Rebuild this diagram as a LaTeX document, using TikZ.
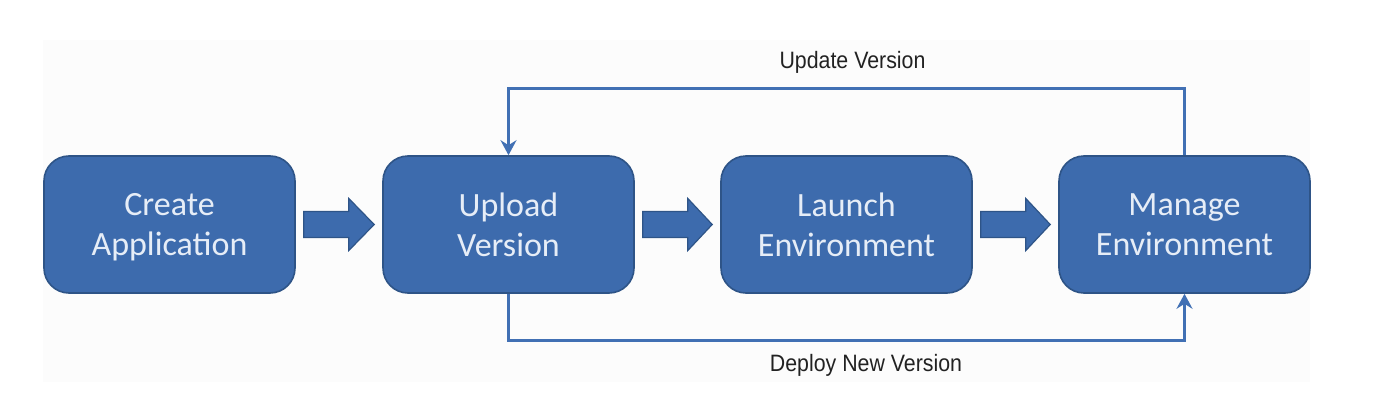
\documentclass[tikz,border=0pt]{standalone}
\usepackage{fontspec}
\usetikzlibrary{calc,arrows.meta}
\newfontfamily\boxfont{Carlito}
\newfontfamily\lblfont[FakeStretch=0.9]{Liberation Sans}
\definecolor{boxfill}{HTML}{3D6BAD}
\definecolor{boxline}{HTML}{2E5487}
\definecolor{connc}{HTML}{4170B4}
\definecolor{boxtext}{HTML}{E6EDF7}
\definecolor{lbltext}{HTML}{222222}
\definecolor{bgc}{HTML}{FCFCFC}
\tikzset{
  stepbox/.style={draw=boxline, line width=1.6pt, fill=boxfill, rounded corners=25pt,
    minimum width=251pt, minimum height=137pt, inner sep=0pt, align=center,
    text=boxtext, font=\boxfont\fontsize{34}{40}\selectfont},
  barrow/.style={draw=boxline, line width=1.2pt, fill=boxfill, line join=miter},
  conn/.style={draw=connc, line width=3pt},
  lbl/.style={text=lbltext, font=\lblfont\fontsize{23.7}{28}\selectfont, inner sep=0pt, anchor=base}
}
\begin{document}
\begin{tikzpicture}[x=1pt,y=-1pt]
\useasboundingbox (0,0) rectangle (1378,412);
\fill[bgc] (43,40) rectangle (1310,382);
\node[stepbox] (a) at (169.5,224.5) {Create\\\raisebox{0pt}[\height][0pt]{Application}};
\node[stepbox] (b) at (508.5,224.5) {Upload\\Version};
\node[stepbox] (c) at (846.5,224.5) {Launch\\Environment};
\node[stepbox] (d) at (1184.5,224.5) {Manage\\Environment};
\foreach \p/\q in {a/b,b/c,c/d}{
  \draw[barrow] ($(\p.east)+(8,-13)$) -- ($(\p.east)+(53,-13)$) -- ($(\p.east)+(53,-26)$)
    -- ($(\q.west)+(-8,0)$) -- ($(\p.east)+(53,26)$) -- ($(\p.east)+(53,13)$)
    -- ($(\p.east)+(8,13)$) -- cycle;
}
\draw[conn, -{Stealth[length=15pt,width=16pt,inset=5pt]}] (d.north) -- ++(0,-67) -| (b.north);
\draw[conn, -{Stealth[length=15pt,width=16pt,inset=5pt]}] (b.south) -- ++(0,47) -| (d.south);
\node[lbl] (up) at (852.5,69) {Update Version};
\node[lbl] (dep) at (866,371) {Deploy New Version};
\end{tikzpicture}
\end{document}
